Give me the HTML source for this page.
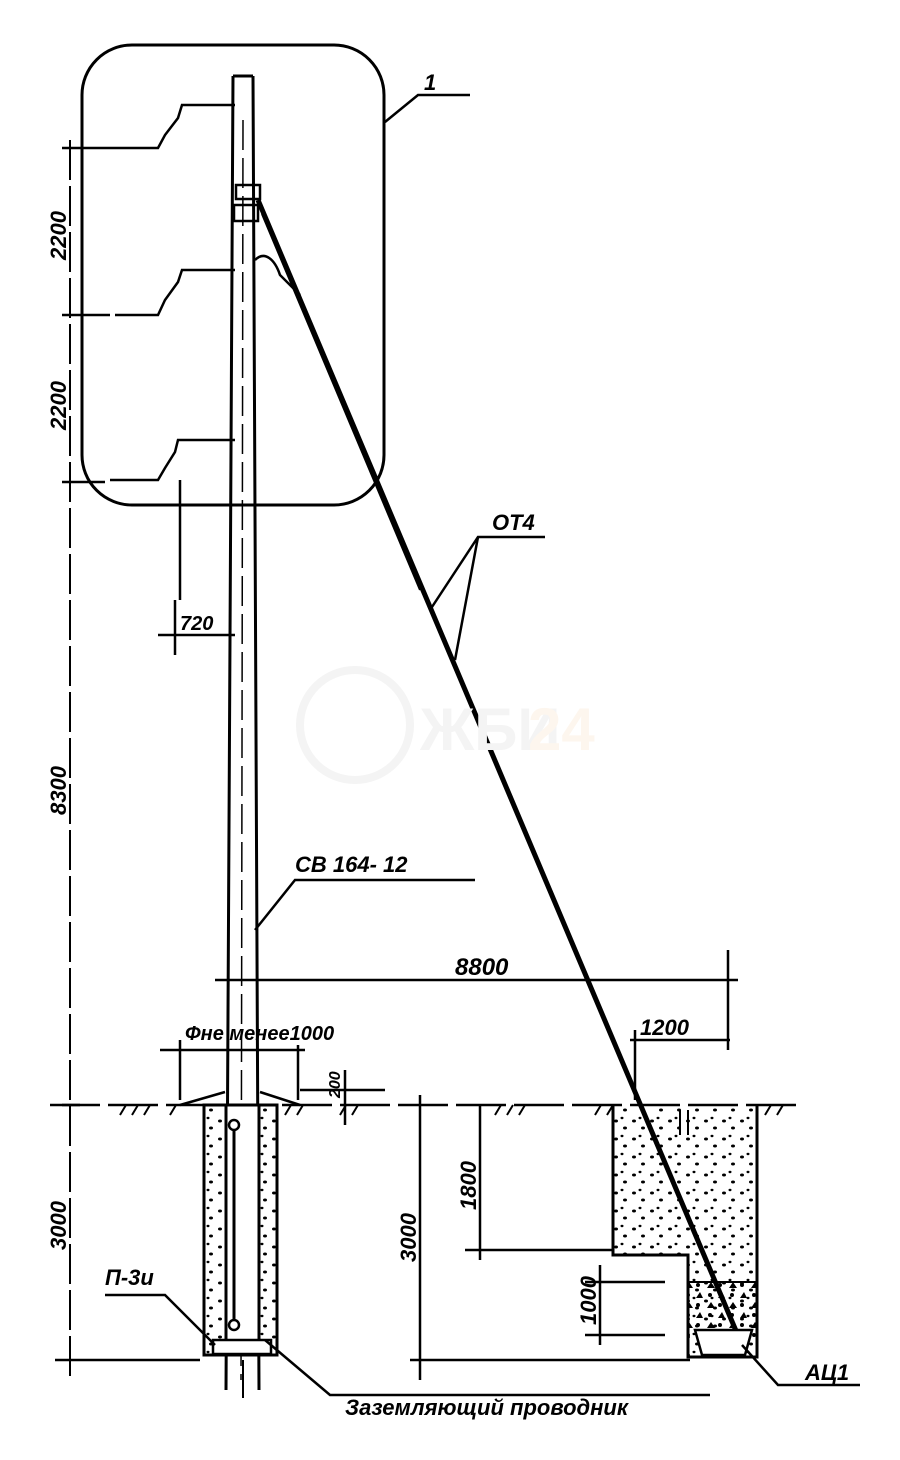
<!DOCTYPE html>
<html><head><meta charset="utf-8"><style>
html,body{margin:0;padding:0;background:#fff;}
svg{display:block}
text{font-family:"Liberation Sans",sans-serif;font-style:italic;font-weight:bold;fill:#000}
</style></head><body>
<svg width="900" height="1460" viewBox="0 0 900 1460" xmlns="http://www.w3.org/2000/svg">
<defs>
<pattern id="dots" width="18" height="18" patternUnits="userSpaceOnUse">
<ellipse cx="4" cy="5" rx="2" ry="1.5" fill="#000"/><ellipse cx="13" cy="12" rx="2" ry="1.5" fill="#000"/><ellipse cx="10" cy="2" rx="1.5" ry="1.2" fill="#000"/>
</pattern>
<pattern id="stones" width="22" height="20" patternUnits="userSpaceOnUse">
<path d="M3 8 l4 -6 l4 6z M14 18 l4 -6 l3 6z" fill="#000"/><circle cx="16" cy="5" r="2" fill="#000"/><circle cx="6" cy="15" r="2" fill="#000"/>
</pattern>
</defs>
<g stroke="#000" fill="none" stroke-width="2.5">
<circle cx="355" cy="725" r="55" stroke="#f4f4f4" stroke-width="8"/>
<rect x="82" y="45" width="302" height="460" rx="50" stroke-width="3"/>
<path d="M385 122 L418 95 L470 95"/>
<path d="M233 76 L253 76 M233 76 L226 1390 M253 76 L259 1390" stroke-width="3"/>
<path d="M243 120 L241 1380" stroke-width="1.5" stroke-dasharray="30 8"/>
<path d="M235 105 L182 105 L178 118 L165 135 L158 148 L105 148"/>
<path d="M235 270 L182 270 L178 282 L165 300 L158 315 L115 315"/>
<path d="M235 440 L178 440 L175 452 L165 468 L158 480 L110 480"/>
<rect x="236" y="185" width="24" height="14"/><rect x="234" y="205" width="24" height="16"/>
<path d="M258 200 L742 1345" stroke-width="5"/>
<path d="M262 214 L420 590" stroke-width="2"/>
<path d="M255 260 C265 250 275 260 280 275 L300 295"/>
<path d="M70 140 L70 1380" stroke-width="2" stroke-dasharray="40 6"/>
<path d="M62 148 L105 148 M62 315 L110 315 M62 482 L105 482 M62 1105 L80 1105 M55 1360 L200 1360"/>
<path d="M175 600 L175 655 M158 635 L235 635 M180 480 L180 600"/>
<path d="M255 930 L295 880 L475 880"/>
<path d="M430 610 L478 537 L545 537 M455 660 L478 537"/>
<path d="M215 980 L738 980 M728 950 L728 1050"/>
<path d="M630 1040 L730 1040 M635 1030 L635 1100"/>
<path d="M160 1050 L305 1050 M180 1040 L180 1100 M298 1045 L298 1100"/>
<path d="M300 1090 L385 1090 M345 1070 L345 1125"/>
<path d="M50 1105 L800 1105" stroke-width="2.5" stroke-dasharray="50 8"/>
<path d="M120 1115 l6 -10 M132 1115 l6 -10 M144 1115 l6 -10 M170 1115 l6 -10 M285 1115 l6 -10 M297 1115 l6 -10 M340 1115 l6 -10 M352 1115 l6 -10 M495 1115 l6 -10 M507 1115 l6 -10 M519 1115 l6 -10 M595 1115 l6 -10 M607 1115 l6 -10 M765 1115 l6 -10 M777 1115 l6 -10" stroke-width="2"/>
<path d="M180 1105 L225 1092 M260 1092 L300 1105"/>
<rect x="204" y="1105" width="73" height="250" fill="url(#dots)" stroke-width="3"/>
<rect x="226" y="1105" width="33" height="250" fill="#fff" stroke-width="3"/>
<rect x="213" y="1340" width="58" height="14" fill="#fff"/>
<path d="M234 1120 L234 1330" stroke-width="3"/>
<circle cx="234" cy="1125" r="5" fill="#fff"/><circle cx="234" cy="1325" r="5" fill="#fff"/>
<path d="M105 1295 L165 1295 L215 1345 M265 1340 L330 1395 L710 1395"/>
<path d="M613 1105 L613 1255 L688 1255 L688 1357 L757 1357 L757 1105" fill="url(#dots)" stroke-width="3"/>
<rect x="688" y="1282" width="69" height="58" fill="url(#stones)" stroke="none"/>
<path d="M688 1282 L757 1282" stroke-width="2"/>
<path d="M695 1330 L752 1330 L745 1355 L702 1355 Z" fill="#fff"/>
<path d="M742 1345 L778 1385 L860 1385"/>
<path d="M680 1110 L680 1135 M688 1110 L688 1135" stroke-width="2"/>
<path d="M420 1095 L420 1380 M410 1360 L690 1360 M480 1105 L480 1260 M465 1250 L612 1250"/>
<path d="M600 1265 L600 1345 M585 1282 L665 1282 M585 1335 L665 1335"/>
<path d="M243 1360 L243 1398" stroke-width="2"/>
</g>
<text x="420" y="750" font-size="60" style="fill:#f4f4f4;font-style:normal">ЖБИ</text>
<text x="528" y="750" font-size="60" style="fill:#fdf6ee;font-style:normal">24</text>
<text x="424" y="90" font-size="22">1</text>
<text x="492" y="530" font-size="22">ОТ4</text>
<text x="295" y="872" font-size="22">СВ 164- 12</text>
<text x="455" y="975" font-size="24">8800</text>
<text x="640" y="1035" font-size="22">1200</text>
<text x="185" y="1040" font-size="20">Фне менее1000</text>
<text x="180" y="630" font-size="20">720</text>
<text x="105" y="1285" font-size="22">П-3и</text>
<text x="345" y="1415" font-size="22">Заземляющий проводник</text>
<text x="805" y="1380" font-size="22">АЦ1</text>
<g font-size="22">
<text transform="translate(66,260) rotate(-90)">2200</text>
<text transform="translate(66,430) rotate(-90)">2200</text>
<text transform="translate(66,815) rotate(-90)">8300</text>
<text transform="translate(66,1250) rotate(-90)">3000</text>
<text transform="translate(416,1262) rotate(-90)">3000</text>
<text transform="translate(476,1210) rotate(-90)">1800</text>
<text transform="translate(596,1325) rotate(-90)">1000</text>
<text transform="translate(340,1098) rotate(-90)" font-size="16">200</text>
</g>
</svg>
</body></html>
